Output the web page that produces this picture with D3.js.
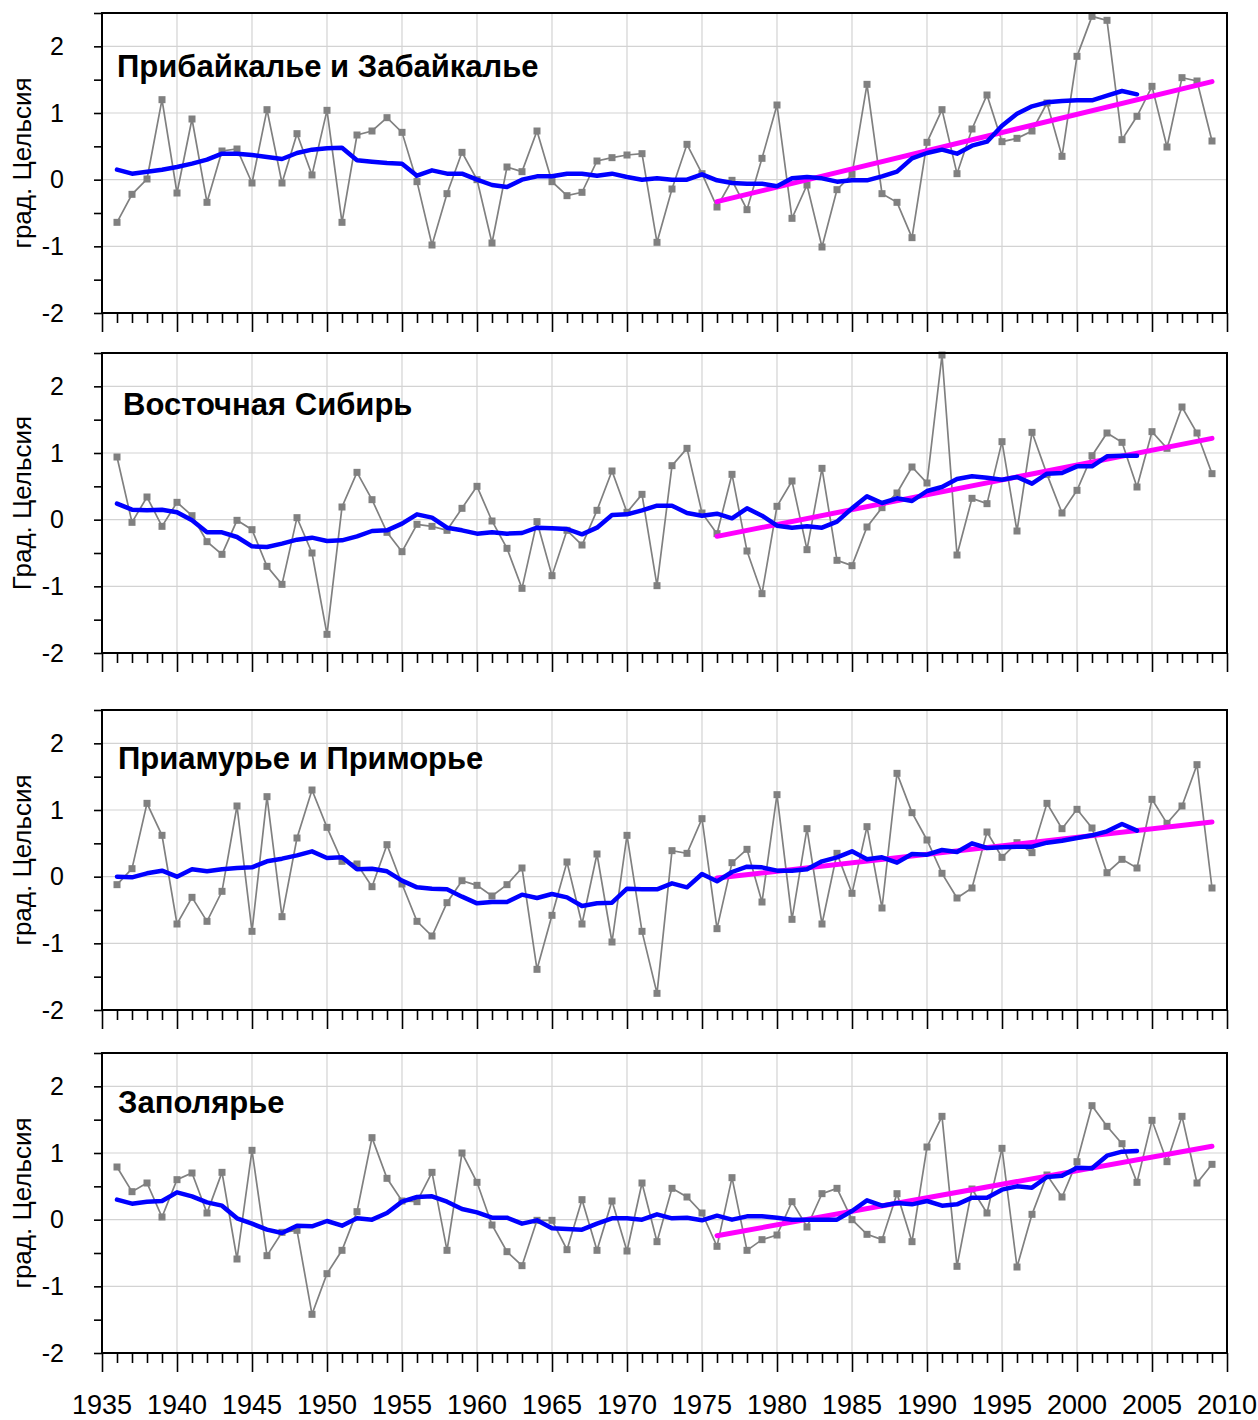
<!DOCTYPE html>
<html><head><meta charset="utf-8">
<script src="https://cdn.jsdelivr.net/npm/d3@7"></script>
<style>body{margin:0;background:#fff}svg{display:block}</style>
</head><body>
<svg id="chart" width="1258" height="1420"></svg>
<script>
const years = d3.range(1936, 2010);
const smoothYears = d3.range(1936, 2005);
const trendYears = [1976, 2009];
const xTicks = [1935,1940,1945,1950,1955,1960,1965,1970,1975,1980,1985,1990,1995,2000,2005,2010];
const yTicks = [-2, -1, 0, 1, 2];
const titles = ["Прибайкалье и Забайкалье", "Восточная Сибирь", "Приамурье и Приморье", "Заполярье"];
const yLabels = ["град. Цельсия", "Град. Цельсия", "град. Цельсия", "град. Цельсия"];

const anomaly1 = [-0.64,-0.22,0.01,1.20,-0.20,0.91,-0.34,0.43,0.46,-0.05,1.05,-0.05,0.69,0.07,1.04,-0.64,0.67,0.73,0.93,0.71,-0.03,-0.98,-0.21,0.41,
0.00,-0.95,0.19,0.12,0.73,-0.03,-0.24,-0.19,0.28,0.33,0.37,0.39,-0.94,-0.14,0.53,0.09,-0.41,-0.01,-0.45,0.32,1.12,-0.58,-0.08,-1.01,-0.15,
0.08,1.43,-0.21,-0.34,-0.87,0.56,1.05,0.09,0.76,1.27,0.57,0.62,0.73,1.15,0.35,1.85,2.45,2.39,0.60,0.95,1.40,0.49,1.53,1.48,0.58];
const smooth1 = [0.15,0.09,0.12,0.15,0.19,0.24,0.30,0.39,0.39,0.37,0.34,0.31,0.40,0.45,0.47,0.48,0.29,0.27,0.25,0.24,0.06,0.14,0.09,0.09,
0.00,-0.08,-0.11,0.00,0.05,0.05,0.09,0.09,0.06,0.09,0.04,0.00,0.02,0.00,0.00,0.08,-0.01,-0.05,-0.06,-0.06,-0.10,0.02,0.04,0.02,-0.03,
-0.01,-0.01,0.05,0.12,0.32,0.40,0.45,0.39,0.51,0.57,0.81,0.99,1.10,1.16,1.18,1.19,1.19,1.26,1.33,1.28];
const trend1 = [-0.33, 1.47];

const anomaly2 = [0.94,-0.04,0.34,-0.10,0.26,0.06,-0.33,-0.52,-0.01,-0.15,-0.70,-0.97,0.03,-0.50,-1.72,0.19,0.71,0.30,-0.19,-0.48,-0.07,-0.10,-0.16,0.17,
0.50,-0.02,-0.43,-1.03,-0.03,-0.84,-0.16,-0.38,0.14,0.73,0.11,0.38,-0.99,0.81,1.07,0.10,-0.21,0.68,-0.47,-1.11,0.20,0.58,-0.45,0.77,-0.61,
-0.69,-0.11,0.18,0.40,0.79,0.55,2.47,-0.53,0.32,0.24,1.17,-0.17,1.31,0.68,0.10,0.44,0.96,1.30,1.16,0.49,1.32,1.07,1.69,1.30,0.69];
const smooth2 = [0.24,0.15,0.14,0.15,0.11,-0.01,-0.19,-0.19,-0.26,-0.40,-0.41,-0.36,-0.30,-0.27,-0.32,-0.31,-0.25,-0.17,-0.16,-0.06,0.08,0.03,-0.12,-0.16,
-0.21,-0.19,-0.21,-0.20,-0.12,-0.13,-0.14,-0.22,-0.12,0.07,0.08,0.14,0.21,0.21,0.10,0.06,0.09,0.02,0.17,0.06,-0.09,-0.12,-0.10,-0.12,-0.03,
0.17,0.35,0.25,0.32,0.28,0.43,0.49,0.61,0.65,0.63,0.60,0.64,0.54,0.69,0.70,0.80,0.80,0.95,0.96,0.96];
const trend2 = [-0.25, 1.22];

const anomaly3 = [-0.12,0.12,1.10,0.62,-0.71,-0.31,-0.67,-0.22,1.06,-0.82,1.20,-0.60,0.58,1.30,0.74,0.23,0.19,-0.15,0.48,-0.11,-0.67,-0.89,-0.39,-0.06,
-0.13,-0.29,-0.12,0.13,-1.39,-0.58,0.22,-0.71,0.34,-0.98,0.62,-0.82,-1.75,0.39,0.35,0.87,-0.78,0.21,0.41,-0.38,1.23,-0.64,0.72,-0.71,0.35,
-0.25,0.75,-0.47,1.55,0.96,0.55,0.05,-0.32,-0.17,0.67,0.29,0.51,0.36,1.10,0.72,1.01,0.73,0.06,0.26,0.13,1.16,0.80,1.06,1.68,-0.17];
const smooth3 = [0.00,-0.01,0.05,0.09,0.00,0.11,0.08,0.11,0.13,0.14,0.23,0.27,0.32,0.38,0.28,0.29,0.11,0.12,0.08,-0.06,-0.16,-0.18,-0.19,-0.30,
-0.40,-0.38,-0.38,-0.27,-0.32,-0.26,-0.31,-0.44,-0.40,-0.39,-0.18,-0.19,-0.19,-0.10,-0.16,0.04,-0.07,0.07,0.15,0.14,0.09,0.09,0.11,0.23,0.29,
0.38,0.26,0.29,0.21,0.34,0.33,0.40,0.37,0.50,0.43,0.44,0.45,0.45,0.51,0.54,0.58,0.62,0.68,0.79,0.69];
const trend3 = [-0.02, 0.82];

const anomaly4 = [0.79,0.42,0.55,0.04,0.60,0.70,0.10,0.71,-0.59,1.04,-0.54,-0.19,-0.16,-1.42,-0.81,-0.46,0.12,1.23,0.62,0.28,0.27,0.71,-0.46,1.00,
0.56,-0.08,-0.48,-0.69,-0.01,-0.01,-0.45,0.30,-0.46,0.28,-0.47,0.55,-0.33,0.47,0.34,0.10,-0.40,0.63,-0.46,-0.30,-0.23,0.27,-0.11,0.39,0.47,
0.00,-0.22,-0.30,0.39,-0.33,1.09,1.55,-0.70,0.46,0.10,1.07,-0.71,0.08,0.67,0.34,0.87,1.71,1.40,1.14,0.56,1.49,0.87,1.55,0.55,0.83];
const smooth4 = [0.30,0.24,0.27,0.28,0.41,0.35,0.26,0.21,0.02,-0.06,-0.15,-0.20,-0.09,-0.10,-0.02,-0.09,0.02,0.00,0.10,0.27,0.34,0.35,0.27,0.16,
0.11,0.03,0.03,-0.06,-0.01,-0.13,-0.14,-0.15,-0.06,0.02,0.02,0.00,0.08,0.02,0.03,-0.01,0.06,0.00,0.05,0.05,0.03,0.00,0.00,0.00,0.00,
0.13,0.29,0.21,0.25,0.23,0.28,0.21,0.23,0.33,0.33,0.45,0.50,0.48,0.64,0.66,0.78,0.77,0.96,1.02,1.03];
const trend4 = [-0.24, 1.10];

const panels = [
  {title: titles[0], ylab: yLabels[0], anom: anomaly1, smooth: smooth1, trend: trend1},
  {title: titles[1], ylab: yLabels[1], anom: anomaly2, smooth: smooth2, trend: trend2},
  {title: titles[2], ylab: yLabels[2], anom: anomaly3, smooth: smooth3, trend: trend3},
  {title: titles[3], ylab: yLabels[3], anom: anomaly4, smooth: smooth4, trend: trend4}
];

const svg = d3.select("#chart");
const L = 102, R = 1227, H = 300;
const tops = [13, 353, 710, 1053];
const titleOffsets = [[15, 53], [21, 51], [16, 48], [16, 49]];
const x = d3.scaleLinear().domain([1935, 2010]).range([L, R]);
const grid = "#d3d3d3";

panels.forEach((p, i) => {
  const top = tops[i];
  const y = d3.scaleLinear().domain([-2, 2.5]).range([top + H, top]);
  const g = svg.append("g");

  // grid
  g.selectAll(".vg").data(xTicks.filter(t => t > 1935 && t < 2010)).enter().append("line")
    .attr("x1", d => x(d)).attr("x2", d => x(d)).attr("y1", top).attr("y2", top + H)
    .attr("stroke", grid).attr("stroke-width", 1.2);
  g.selectAll(".hg").data([-1, 0, 1, 2]).enter().append("line")
    .attr("x1", L).attr("x2", R).attr("y1", d => y(d)).attr("y2", d => y(d))
    .attr("stroke", grid).attr("stroke-width", 1.2);

  // x ticks
  const xa = d3.axisBottom(x).tickValues(d3.range(1935, 2011)).tickSizeInner(10).tickSizeOuter(0).tickFormat("");
  const xag = g.append("g").attr("transform", `translate(0,${top + H})`).call(xa);
  xag.select(".domain").remove();
  xag.selectAll(".tick line").attr("stroke", "#000").attr("stroke-width", 1.6)
    .attr("y2", d => d % 5 === 0 ? 19 : 10);
  if (i === 3) {
    g.selectAll(".xl").data(xTicks).enter().append("text")
      .attr("x", d => x(d)).attr("y", top + H + 61)
      .attr("text-anchor", "middle")
      .style("font-family", "'Liberation Sans Narrow', 'Arial Narrow', sans-serif")
      .style("font-size", "27px").attr("fill", "#000")
      .text(d => d);
  }

  // y ticks
  const ya = d3.axisLeft(y).tickValues(d3.range(-2, 2.51, 0.5)).tickSizeInner(8).tickSizeOuter(0).tickFormat("");
  const yag = g.append("g").attr("transform", `translate(${L},0)`).call(ya);
  yag.select(".domain").remove();
  yag.selectAll(".tick line").attr("stroke", "#000").attr("stroke-width", 1.6);
  g.selectAll(".yl").data(yTicks).enter().append("text")
    .attr("x", 64).attr("y", d => y(d)).attr("dy", "0.35em")
    .attr("text-anchor", "end")
    .style("font-family", "'Liberation Sans Narrow', 'Arial Narrow', sans-serif")
    .style("font-size", "25px").attr("fill", "#000")
    .text(d => d);

  // y label
  g.append("text")
    .attr("transform", `translate(31,${top + H / 2}) rotate(-90)`)
    .attr("text-anchor", "middle")
    .style("font-family", "'Liberation Sans', Arial, sans-serif")
    .style("font-size", "26px").attr("fill", "#000")
    .text(p.ylab);

  // gray line + markers
  const line = d3.line().x(d => x(d[0])).y(d => y(d[1]));
  const anomData = years.map((yr, k) => [yr, p.anom[k]]);
  g.append("path").datum(anomData).attr("d", line)
    .attr("fill", "none").attr("stroke", "#808080").attr("stroke-width", 1.7);
  g.selectAll(".m").data(anomData).enter().append("rect")
    .attr("x", d => x(d[0]) - 3.5).attr("y", d => y(d[1]) - 3.5)
    .attr("width", 7).attr("height", 7).attr("fill", "#808080");

  // trend
  const trendData = trendYears.map((yr, k) => [yr, p.trend[k]]);
  g.append("path").datum(trendData).attr("d", line)
    .attr("fill", "none").attr("stroke", "#ff00ff").attr("stroke-width", 5).attr("stroke-linecap", "round");

  // smooth
  const smData = smoothYears.map((yr, k) => [yr, p.smooth[k]]);
  g.append("path").datum(smData).attr("d", line)
    .attr("fill", "none").attr("stroke", "#0000ff").attr("stroke-width", 4.5)
    .attr("stroke-linejoin", "round").attr("stroke-linecap", "round");

  // frame
  g.append("rect").attr("x", L).attr("y", top).attr("width", R - L).attr("height", H)
    .attr("fill", "none").attr("stroke", "#000").attr("stroke-width", 2);

  // title
  g.append("text")
    .attr("x", L + titleOffsets[i][0]).attr("y", top + titleOffsets[i][1]).attr("dy", "0.35em")
    .style("font-family", "'Liberation Sans', Arial, sans-serif")
    .style("font-size", "31px").style("font-weight", "bold").attr("fill", "#000")
    .text(p.title);
});
</script>
</body></html>
